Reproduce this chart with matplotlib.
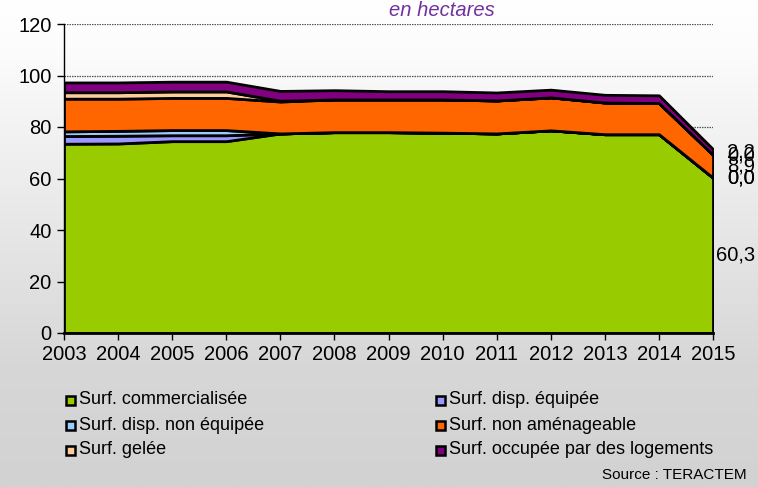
import numpy as np
import matplotlib
matplotlib.use("Agg")
import matplotlib.pyplot as plt
from matplotlib.patches import Rectangle
import matplotlib.transforms as mtransforms
from matplotlib import font_manager as fm

years = list(range(2003, 2016))
commercialisee = [73.5, 73.6, 74.5, 74.5, 77.5, 78.0, 78.0, 77.8, 77.5, 78.7, 77.2, 77.2, 60.3]
disp_equipee = [3.0, 3.0, 2.3, 2.3, 0.0, 0.0, 0.0, 0.0, 0.0, 0.0, 0.0, 0.0, 0.0]
disp_non_equipee = [1.8, 1.9, 2.0, 2.0, 0.0, 0.0, 0.0, 0.0, 0.0, 0.0, 0.0, 0.0, 0.0]
non_amenageable = [12.7, 12.5, 12.5, 12.5, 12.4, 12.7, 12.7, 12.9, 12.8, 12.8, 12.3, 12.1, 8.9]
gelee = [2.5, 2.5, 2.5, 2.5, 0.3, 0.0, 0.0, 0.0, 0.0, 0.0, 0.0, 0.0, 0.0]
logements = [3.8, 3.8, 3.8, 3.8, 3.8, 3.6, 3.2, 3.2, 3.1, 3.0, 3.0, 3.0, 2.2]

series_names = ["Surf. commercialisée", "Surf. disp. équipée", "Surf. disp. non équipée",
                "Surf. non aménageable", "Surf. gelée", "Surf. occupée par des logements"]
series = [commercialisee, disp_equipee, disp_non_equipee, non_amenageable, gelee, logements]
colors = ["#99cc00", "#9999ff", "#99ccff", "#ff6600", "#ffcc99", "#800080"]
last_labels = ["60,3", "0,0", "0,0", "8,9", "0,0", "2,2"]

names = {f.name for f in fm.fontManager.ttflist}
main_font = next((n for n in ["Liberation Sans", "Arimo", "Arial"] if n in names), "DejaVu Sans")
plt.rcParams['font.family'] = [main_font, 'DejaVu Sans']

W, H = 758, 487
fig = plt.figure(figsize=(W / 100, H / 100), dpi=100)

# gradient background
bg = fig.add_axes([0, 0, 1, 1], zorder=-10)
g = np.interp(np.linspace(0, 1, 300), [0, 0.1, 0.75, 1.0], [255, 252, 215, 210]) / 255.0
img = np.repeat(g[:, None], 2, axis=1)
bg.imshow(np.dstack([img, img, img]), aspect='auto', extent=[0, 1, 0, 1], origin='upper')
bg.set_axis_off()

ax = fig.add_axes([64 / W, 1 - 333 / H, (713 - 64) / W, (333 - 24) / H])
ax.patch.set_alpha(0)
ax.stackplot(years, *series, colors=colors, edgecolor='black', linewidth=2.0, zorder=3)
ax.set_xlim(2003, 2015)
ax.set_ylim(0, 120)
ax.set_xticks(years)
ax.set_yticks(range(0, 121, 20))
ax.yaxis.grid(True, linestyle=(0, (1.2, 0.8)), color='#555555', linewidth=0.9, zorder=0)
ax.set_axisbelow(True)
for s in ['top', 'right']:
    ax.spines[s].set_visible(False)
ax.spines['left'].set_linewidth(1.0)
ax.spines['bottom'].set_linewidth(2.0)
ax.spines['bottom'].set_zorder(5)
ax.tick_params(axis='both', labelsize=14.5, direction='out', length=5, width=1.0, colors='black')
ax.tick_params(axis='x', pad=4)
ax.tick_params(axis='y', pad=4)

# end labels
trans = mtransforms.blended_transform_factory(fig.transFigure, ax.transData)
cum = 0
for vals, lab in zip(series, last_labels):
    v = vals[-1]
    ax.text(755 / W, cum + v / 2, lab, transform=trans, ha='right', va='center',
            fontsize=14.5, color='black', clip_on=False)
    cum += v

fig.text(442 / W, 1 - 10 / H, "en hectares", ha='center', va='center', fontsize=14.5,
         style='italic', color='#7030a0')

# legend (two columns, drawn manually)
order = [[0, 2, 4], [1, 3, 5]]
col_marker_x = [66, 436]
col_text_x = [79, 449]
row_y = [400, 425, 450]
for c, items in enumerate(order):
    for r, i in enumerate(items):
        y = row_y[r]
        fig.add_artist(Rectangle((col_marker_x[c] / W, 1 - (y + 5) / H), 9 / W, 9 / H,
                                 transform=fig.transFigure, facecolor=colors[i],
                                 edgecolor='black', linewidth=1.8))
        fig.text(col_text_x[c] / W, 1 - y / H, series_names[i], ha='left', va='center',
                 fontsize=13)

fig.text(747 / W, 1 - 475 / H, "Source : TERACTEM", ha='right', va='center', fontsize=11)

fig.savefig("out.png", dpi=100)
